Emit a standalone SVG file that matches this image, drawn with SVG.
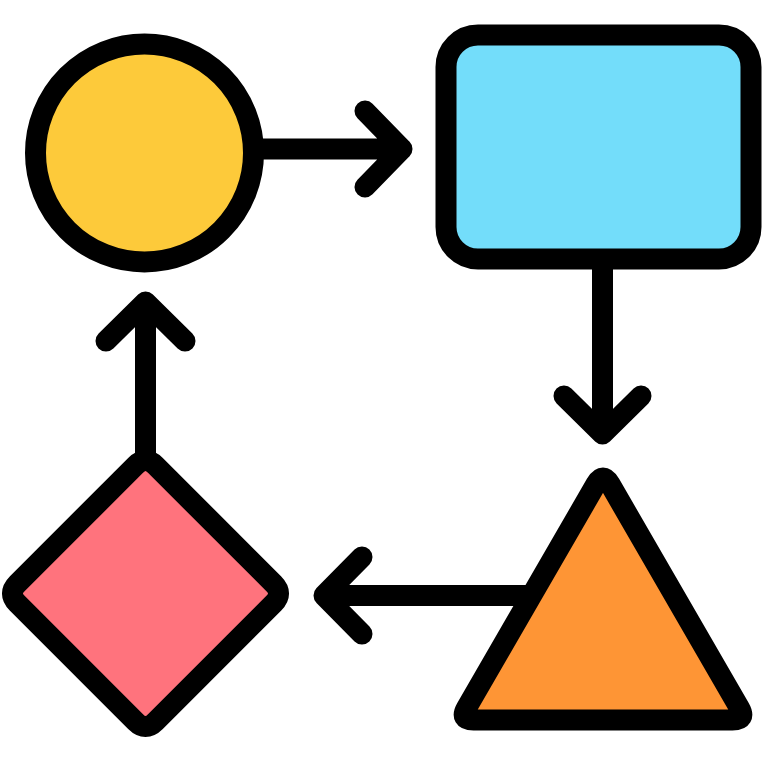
<svg xmlns="http://www.w3.org/2000/svg" width="764" height="764" viewBox="0 0 764 764">
  <style>
    .s { stroke: #000; stroke-width: 21; stroke-linecap: round; stroke-linejoin: round; }
    .c { fill: none; }
  </style>
  <rect width="764" height="764" fill="#fff"/>
  <g id="connectors" class="s c">
    <path d="M250 149 H402 M365 111 L402 149 L365 187"/>
    <path d="M602.5 259 V434 M564 396 L602.5 434 L641 396"/>
    <path d="M540 595.5 H324 M362 557 L324 595.5 L362 634"/>
    <path d="M145.5 460 V302 M106 341 L145.5 302 L185 341"/>
  </g>
  <g id="circle">
    <circle class="s" cx="144.5" cy="153" r="109" fill="#FDCA3A"/>
  </g>
  <g id="rectangle">
    <rect class="s" x="446" y="35" width="305" height="224" rx="32" fill="#73DDFA"/>
  </g>
  <g id="triangle">
    <path class="s" fill="#FE9535" d="M610,484.1 L739.5,707.9 Q746.5,720 732.5,720 L473.5,720 Q459.5,720 466.5,707.9 L596,484.1 Q603,472 610,484.1 Z"/>
  </g>
  <g id="diamond">
    <path class="s" fill="#FF737D" d="M155.4,465.4 L273.6,583.6 Q283.5,593.5 273.6,603.4 L155.4,721.6 Q145.5,731.5 135.6,721.6 L17.4,603.4 Q7.5,593.5 17.4,583.6 L135.6,465.4 Q145.5,455.5 155.4,465.4 Z"/>
  </g>
</svg>
